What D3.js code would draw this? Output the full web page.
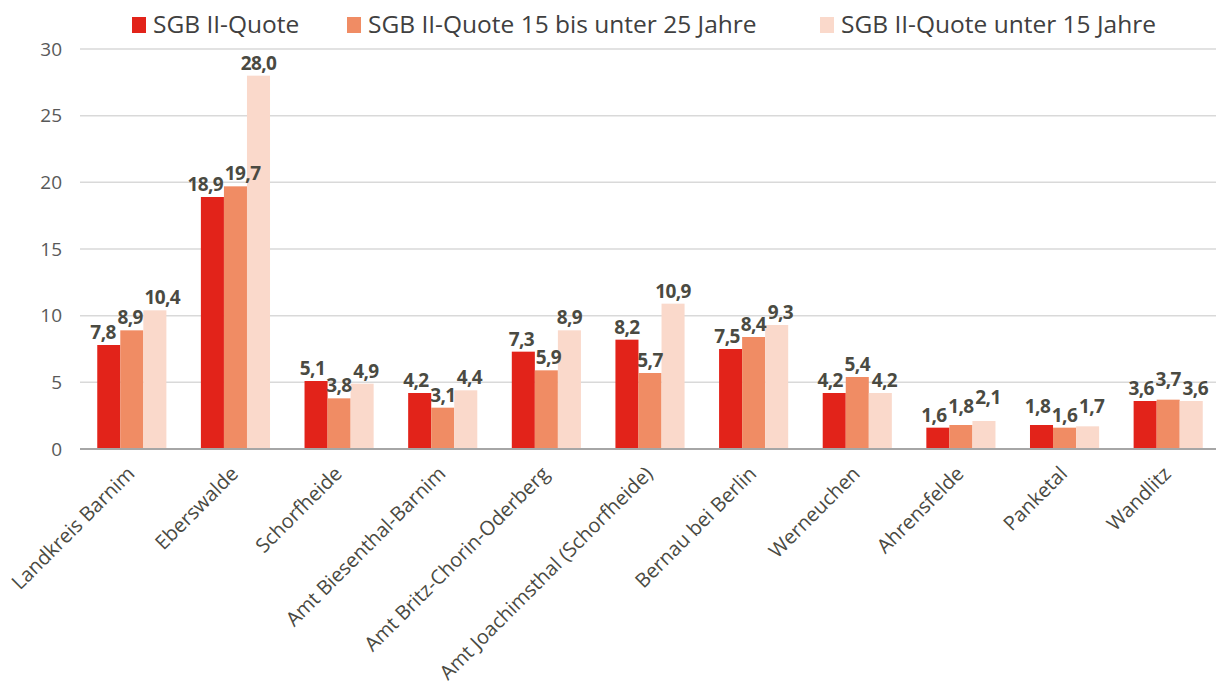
<!DOCTYPE html>
<html>
<head>
<meta charset="utf-8">
<script src="https://cdn.jsdelivr.net/npm/d3@7"></script>
<style>
  html, body { margin: 0; padding: 0; background: #fff; }
  svg { display: block; }
  text { font-family: "Open Sans", sans-serif; }
</style>
</head>
<body>
<svg id="chart" width="1216" height="693"></svg>
<script>
const categories = ["Landkreis Barnim", "Eberswalde", "Schorfheide", "Amt Biesenthal-Barnim",
  "Amt Britz-Chorin-Oderberg", "Amt Joachimsthal (Schorfheide)", "Bernau bei Berlin",
  "Werneuchen", "Ahrensfelde", "Panketal", "Wandlitz"];
const seriesNames = ["SGB II-Quote", "SGB II-Quote 15 bis unter 25 Jahre", "SGB II-Quote unter 15 Jahre"];
const quote = [7.8, 18.9, 5.1, 4.2, 7.3, 8.2, 7.5, 4.2, 1.6, 1.8, 3.6];
const quote15to25 = [8.9, 19.7, 3.8, 3.1, 5.9, 5.7, 8.4, 5.4, 1.8, 1.6, 3.7];
const quoteUnder15 = [10.4, 28.0, 4.9, 4.4, 8.9, 10.9, 9.3, 4.2, 2.1, 1.7, 3.6];
const yTicks = [0, 5, 10, 15, 20, 25, 30];
const colors = ["#E2231A", "#F08C64", "#FAD9CB"];

const seriesValues = [quote, quote15to25, quoteUnder15];
const svg = d3.select("#chart");
const mLeft = 80, mRight = 1220, mTop = 49, mBottom = 449;

const x = d3.scaleBand().domain(categories).range([mLeft, mRight]).paddingInner(0.333).paddingOuter(0.1665);
const x1 = d3.scaleBand().domain(d3.range(3)).range([0, x.bandwidth()]);
const y = d3.scaleLinear().domain([0, 30]).range([mBottom, mTop]);

// gridlines
svg.append("g").selectAll("line").data(yTicks.filter(d => d > 0)).join("line")
  .attr("x1", mLeft).attr("x2", 1216)
  .attr("y1", d => y(d)).attr("y2", d => y(d))
  .attr("stroke", "#d9d9d9").attr("stroke-width", 1.5);

// y axis labels
const yAxis = d3.axisLeft(y).tickValues(yTicks).tickSize(0).tickPadding(18).tickFormat(d3.format("d"));
const gy = svg.append("g").attr("transform", `translate(${mLeft},0)`).call(yAxis);
gy.select(".domain").remove();
gy.selectAll("text").attr("font-size", 19).attr("fill", "#595959").attr("font-family", "Open Sans");

// bars
const groups = svg.append("g").selectAll("g").data(categories).join("g")
  .attr("transform", d => `translate(${x(d)},0)`);
groups.selectAll("rect").data((c, i) => seriesValues.map((s, k) => ({k, v: s[i]}))).join("rect")
  .attr("x", d => x1(d.k)).attr("width", x1.bandwidth())
  .attr("y", d => y(d.v)).attr("height", d => y(0) - y(d.v))
  .attr("fill", d => colors[d.k]);

// data labels
groups.each(function(c, i) {
  const g = d3.select(this);
  const data = seriesValues.map((s, k) => ({k, v: s[i]}));
  const labels = g.selectAll("text.lbl").data(data).join("text")
    .attr("class", "lbl")
    .attr("x", d => x1(d.k) + x1.bandwidth() / 2)
    .attr("y", d => y(d.v) - 6)
    .attr("text-anchor", "middle")
    .attr("font-size", 19).attr("font-weight", "bold").attr("fill", "#4a4a42")
    .attr("letter-spacing", "-0.6")
    .text(d => d3.format(".1f")(d.v).replace(".", ","));
  const nodes = labels.nodes();
  const gy = n => +n.getAttribute("y");
  const hOverlap = (a, b) => { const A = a.getBBox(), B = b.getBBox(); return A.x + A.width + 1 - B.x; };
  const SEP = 9;
  for (let k = 0; k < nodes.length - 1; k++) {
    const a = nodes[k], b = nodes[k + 1];
    if (hOverlap(a, b) > 0 && Math.abs(gy(a) - gy(b)) < SEP) {
      if (data[k + 1].v >= data[k].v) b.setAttribute("y", Math.min(gy(b), gy(a) - SEP));
      else a.setAttribute("y", Math.min(gy(a), gy(b) - SEP));
    }
  }
  for (let pass = 0; pass < 6; pass++) {
    for (let k = 0; k < nodes.length - 1; k++) {
      const a = nodes[k], b = nodes[k + 1];
      const h = hOverlap(a, b);
      if (h > 0 && Math.abs(gy(a) - gy(b)) < 24) {
        a.setAttribute("x", +a.getAttribute("x") - h / 2);
        b.setAttribute("x", +b.getAttribute("x") + h / 2);
      }
    }
  }
});

// x axis baseline
svg.append("line").attr("x1", mLeft).attr("x2", 1216).attr("y1", mBottom).attr("y2", mBottom)
  .attr("stroke", "#a6a6a6").attr("stroke-width", 2);

// x labels
const xAxis = d3.axisBottom(x).tickSize(0).tickPadding(0);
const gx = svg.append("g").attr("transform", `translate(0,${mBottom})`).call(xAxis);
gx.select(".domain").remove();
gx.selectAll("text")
  .attr("font-size", 20).attr("fill", "#4a4a42").attr("font-weight", 500).attr("font-family", "Open Sans")
  .attr("text-anchor", "end")
  .attr("dy", null).attr("y", null)
  .attr("transform", "translate(4,26) rotate(-45)");

// legend
const legendX = [132, 347, 820];
const lg = svg.append("g").selectAll("g").data(seriesNames).join("g")
  .attr("transform", (d, i) => `translate(${legendX[i]},17)`);
lg.append("rect").attr("width", 14).attr("height", 16).attr("fill", (d, i) => colors[i]);
lg.append("text").attr("x", 21).attr("y", 16).attr("font-size", 24.5).attr("fill", "#404040").text(d => d);
</script>
</body>
</html>
